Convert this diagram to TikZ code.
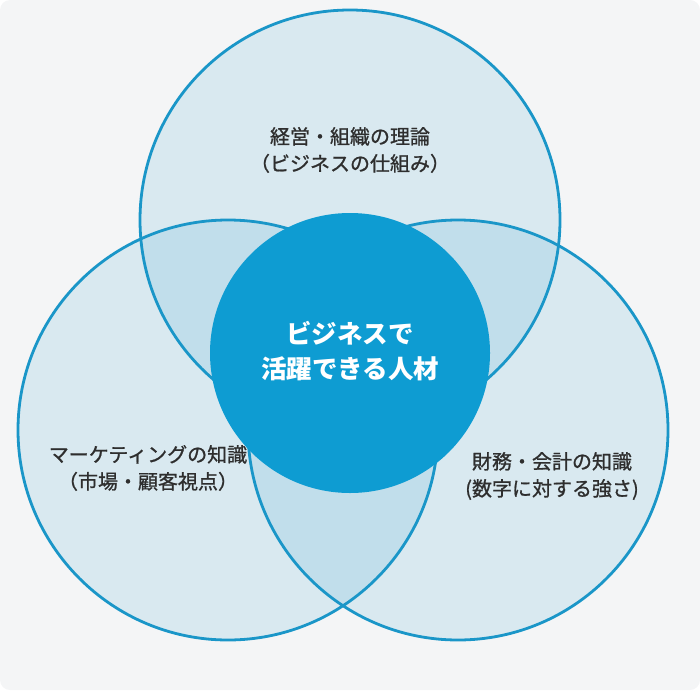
\documentclass[tikz,border=0pt]{standalone}
\usepackage{fontspec}
\newfontfamily\cjk{Noto Sans CJK JP}
\newfontfamily\cjkmid[FakeBold=1]{Noto Sans CJK JP}
\definecolor{bgray}{HTML}{F4F5F6}
\definecolor{ring}{HTML}{1A96C8}
\definecolor{core}{HTML}{0E9CD2}
\definecolor{labeltext}{HTML}{2E2E2E}

\begin{document}
\begin{tikzpicture}[
  x=1pt, y=-1pt,
  area/.style={circle, draw=ring, line width=2.8pt, fill=ring, fill opacity=0.12, text opacity=1, minimum size=420pt, inner sep=0pt},
  corebox/.style={circle, fill=core, minimum size=280pt, inner sep=0pt},
  lbl/.style={font=\cjkmid\fontsize{20}{27}\selectfont, text=labeltext, align=center},
  corelbl/.style={font=\cjk\bfseries\fontsize{25.5}{35}\selectfont, text=white, align=center}
]
\fill[bgray, rounded corners=10pt] (0,0) rectangle (700,690);
\useasboundingbox (0,0) rectangle (700,690);

\node[area] (mgmt) at (350,220) {};
\node[area] (mkt) at (228,430) {};
\node[area] (fin) at (458,430) {};
\node[corebox] (core) at (350,353) {};

\node[lbl] (mgmtlbl) at (350,150) {経営・組織の理論\\（ビジネスの仕組み）};
\node[lbl] (mktlbl) at (148,468) {マーケティングの知識\\（市場・顧客視点）};
\node[lbl] (finlbl) at (552,476) {財務・会計の知識\\(数字に対する強さ)};
\node[corelbl] (corelbl) at (350,351) {ビジネスで\\活躍できる人材};

\end{tikzpicture}
\end{document}
